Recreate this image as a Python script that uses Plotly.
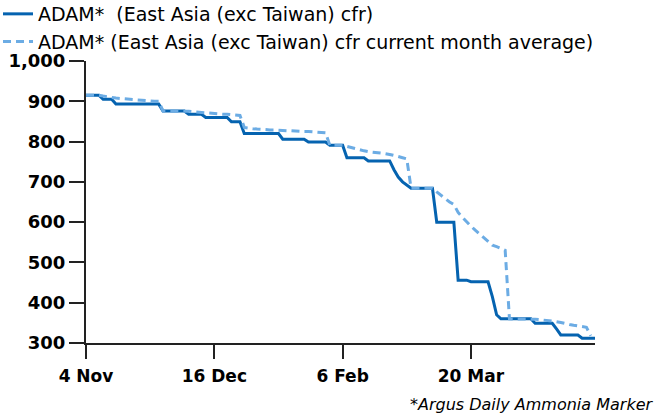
import plotly.graph_objects as go

# Daily index (business days from 4 Nov)
tick_positions = [0, 30, 60, 90]
tick_labels = ["4 Nov", "16 Dec", "6 Feb", "20 Mar"]

adam = (
    [915] * 4 + [905] * 3 + [893] * 11 + [876] * 6 + [868] * 4 + [860] * 6 + [849] * 3
    + [820] * 9 + [806] * 6 + [799] * 5 + [791] * 4 + [760] * 5 + [752] * 6
    + [730, 712, 700, 692] + [684] * 6 + [600] * 5 + [456] * 3 + [452] * 5
    + [415, 370] + [360] * 8 + [349] * 5 + [335] + [320] * 5 + [312] * 4
)

adam_avg = [
    # Nov
    915, 915, 915, 915, 913, 911, 910, 908, 907, 906, 905, 904, 903, 902, 902, 901, 900, 900,
    # Dec
    876, 876, 876, 876, 876, 876, 875, 874, 873, 872, 871, 870, 869, 869, 868, 868, 867, 866, 865,
    # Jan
    835, 833, 832, 831, 830, 830, 829, 829, 828, 828, 827, 827, 826, 826, 825, 825, 824, 824, 823, 822,
    # Feb
    791, 791, 791, 791, 788, 785, 782, 779, 777, 775, 774, 773, 772, 770, 768, 766, 763, 760, 757,
    # Mar
    684, 684, 684, 684, 684, 684, 675, 666, 657, 650, 644, 624, 612, 600, 590, 580, 571, 562, 552,
    543, 539, 534, 530,
    # Apr
    360, 360, 360, 360, 360, 360, 359, 358, 357, 356, 355, 353, 351, 348, 346, 344, 342, 341, 339,
    # May
    318, None,
]

days = list(range(len(adam)))

FONT = "DejaVu Sans, sans-serif"

fig = go.Figure()
fig.add_trace(go.Scatter(
    x=days, y=adam, mode="lines",
    name="ADAM*\u00a0 (East Asia (exc Taiwan) cfr)",
    line=dict(color="#0563b0", width=3),
))
fig.add_trace(go.Scatter(
    x=days, y=adam_avg, mode="lines",
    name="ADAM* (East Asia (exc Taiwan) cfr current month average)",
    line=dict(color="#6cace4", width=3, dash="8px,5px"),
))

fig.update_layout(
    width=658, height=419,
    margin=dict(l=86, r=63, t=61, b=76, autoexpand=False),
    paper_bgcolor="white", plot_bgcolor="white",
    font=dict(family=FONT, size=19, color="#000000"),
    showlegend=True,
    legend=dict(
        xref="paper", yref="paper", x=-88 / 509, y=1 + 66 / 282,
        xanchor="left", yanchor="top",
        font=dict(size=19), itemwidth=30, tracegroupgap=0,
        bgcolor="rgba(0,0,0,0)",
    ),
    xaxis=dict(
        range=[0, 119], tickvals=tick_positions, ticktext=tick_labels,
        showgrid=False, zeroline=False, showline=True, linecolor="#222222", linewidth=2,
        ticks="outside", ticklen=14, tickwidth=1.5, tickcolor="#222222",
        tickfont=dict(family=FONT, size=17, weight="bold"),
        ticklabelstandoff=3,
    ),
    yaxis=dict(
        range=[300, 1000], tickvals=list(range(300, 1001, 100)), tickformat=",",
        showgrid=False, zeroline=False, showline=True, linecolor="#222222", linewidth=2,
        ticks="outside", ticklen=15, tickwidth=1.5, tickcolor="#222222",
        tickfont=dict(family=FONT, size=18, weight="bold"),
    ),
    annotations=[dict(
        text="<i>*Argus Daily Ammonia Marker</i>",
        xref="paper", yref="paper", x=(655 - 86) / 509, y=(343 - 404) / 282,
        xanchor="right", yanchor="middle", showarrow=False,
        font=dict(family=FONT, size=16),
    )],
)

fig.write_html(
    "out.html",
    config={"displayModeBar": False},
    post_script="document.body.style.margin='0';document.body.style.overflow='hidden';",
)
